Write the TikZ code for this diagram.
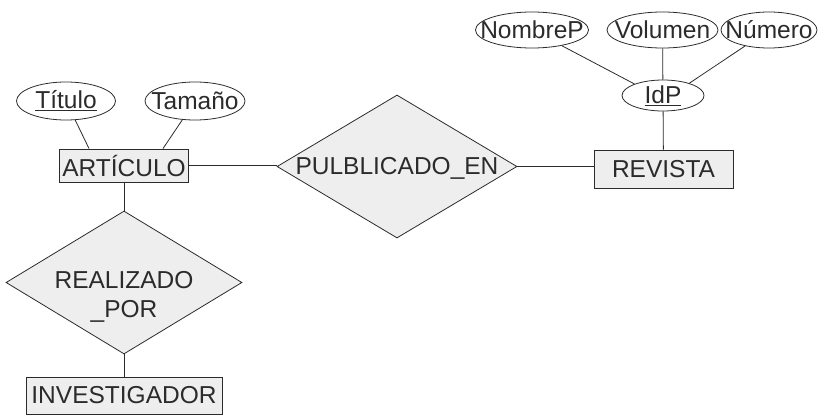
\documentclass[tikz,border=0pt]{standalone}
\usepackage{fontspec}
\setmainfont{Liberation Sans}
\usetikzlibrary{shapes.geometric,calc}
\definecolor{boxfill}{HTML}{EEEEEE}
\definecolor{ink}{HTML}{2B2B2B}
\newcommand{\zw}[1]{\makebox[0pt]{#1}}
\begin{document}
\begin{tikzpicture}[x=1pt,y=-1pt,
  every node/.style={font=\fontsize{24.5}{29}\selectfont, text=ink},
  entity/.style={draw=ink, fill=boxfill, rectangle, inner sep=0pt, line width=0.9pt},
  attr/.style={draw=ink, fill=white, ellipse, inner sep=0pt, line width=0.8pt},
  rel/.style={draw=ink, fill=boxfill, diamond, inner sep=0pt, line width=0.8pt},
  link/.style={draw=ink, line width=0.8pt}]
\useasboundingbox (0,0) rectangle (827,415);
% entities
\node[entity, minimum width=129, minimum height=33] (articulo) at (124,165.5) {\zw{ARTÍCULO}};
\node[entity, minimum width=139, minimum height=38] (revista) at (663.5,169) {\zw{REVISTA}};
\node[entity, minimum width=196, minimum height=37] (inv) at (124,395.5) {\zw{INVESTIGADOR}};
% relationships
\node[rel, minimum width=240, minimum height=143] (pub) at (397,166.5) {};
\node (pubtext) at ($(pub)+(0,2)$) {PULBLICADO\_EN};
\node[rel, minimum width=236, minimum height=143] (real) at (124,282.5) {};
\node[align=center] (realtext) at ($(real)+(0,14)$) {REALIZADO\\\_POR};
% attributes
\node[attr, minimum width=99, minimum height=38] (titulo) at (66,101) {\zw{\underline{Título}}};
\node[attr, minimum width=100, minimum height=38] (tamano) at (195,101) {\zw{Tamaño}};
\node[attr, minimum width=82, minimum height=31] (idp) at (663,95.5) {\zw{\underline{IdP}}};
\node[attr, minimum width=113, minimum height=36] (nombrep) at (532,30) {\zw{NombreP}};
\node[attr, minimum width=111, minimum height=36] (volumen) at (662.5,30) {\zw{Volumen}};
\node[attr, minimum width=96, minimum height=36] (numero) at (769,30) {\zw{Número}};
% connectors
\coordinate (a1) at ($(articulo.north)+(-35,0)$);
\coordinate (a2) at ($(articulo.north)+(39,0)$);
\draw[link] (titulo) -- (a1);
\draw[link] (tamano) -- (a2);
\draw[link] (articulo.east) -- (articulo.east -| pub.west);
\draw[link] (pub.east) -- (pub.east -| revista.west);
\draw[link] (articulo.south) -- (real.north);
\draw[link] (real.south) -- (inv.north);
\draw[link] (idp) -- (revista);
\draw[link] (nombrep) -- (idp.158);
\draw[link] (volumen) -- (idp);
\draw[link] (numero) -- (idp.25);
\end{tikzpicture}
\end{document}
